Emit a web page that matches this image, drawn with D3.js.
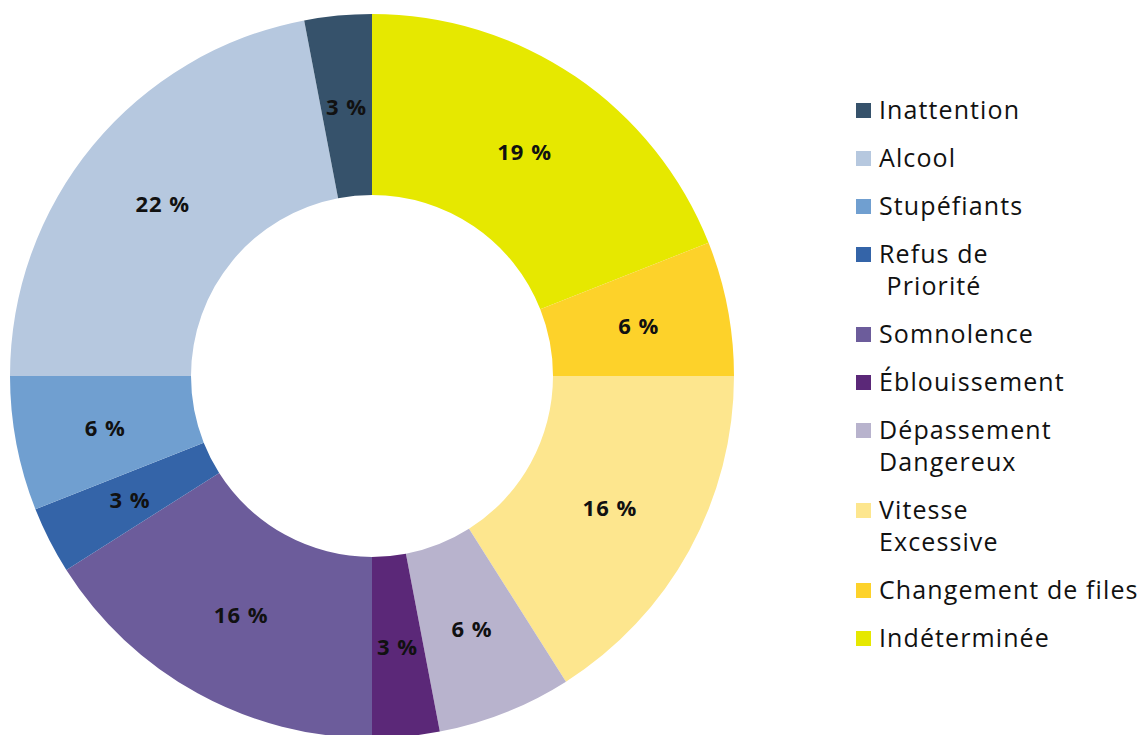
<!DOCTYPE html>
<html>
<head>
<meta charset="utf-8">
<script src="https://cdn.jsdelivr.net/npm/d3@7"></script>
<style>
  body { margin: 0; background: #fff; }
  svg { display: block; font-family: "Open Sans", "Lato", sans-serif; font-variant-ligatures: none; }
</style>
</head>
<body>
<svg width="1145" height="735"></svg>
<script>
// slices, clockwise from 12 o'clock
const causes = ["Indéterminée", "Changement de files", "Vitesse Excessive", "Dépassement Dangereux",
    "Éblouissement", "Somnolence", "Refus de Priorité", "Stupéfiants", "Alcool", "Inattention"];
const shares = [19, 6, 16, 6, 3, 16, 3, 6, 22, 3];
const colors = ["#e6e800", "#fdd22a", "#fde68e", "#b8b3cd", "#5b2878",
    "#6c5c9b", "#3464a8", "#709fd0", "#b6c8df", "#36526b"];

// legend text, top to bottom (reverse of slice order)
const legendLines = [
    ["Inattention"], ["Alcool"], ["Stupéfiants"], ["Refus de", " Priorité"], ["Somnolence"],
    ["Éblouissement"], ["Dépassement", "Dangereux"], ["Vitesse", "Excessive"],
    ["Changement de files"], ["Indéterminée"]
];

var svg = d3.select("svg");

var cx = 372, cy = 376;
var outerR = 362, innerR = 181;

var color = d3.scaleOrdinal().domain(causes).range(colors);

var pie = d3.pie().sort(null).value(d => d.value);
var arc = d3.arc().innerRadius(innerR).outerRadius(outerR);

var data = causes.map((c, i) => ({ name: c, value: shares[i] }));

var g = svg.append("g").attr("transform", "translate(" + cx + "," + cy + ")");

g.selectAll("path")
    .data(pie(data))
    .enter().append("path")
    .attr("d", arc)
    .attr("fill", d => color(d.data.name));

// percentage labels in the middle of the ring
g.selectAll("text")
    .data(pie(data))
    .enter().append("text")
    .attr("transform", d => "translate(" + arc.centroid(d) + ")")
    .attr("text-anchor", "middle")
    .attr("dy", "0.4em")
    .style("font-size", "22px")
    .style("font-weight", "bold")
    .style("letter-spacing", "1px")
    .style("fill", "#111")
    .text(d => d.data.value + " %");

// legend
var legendOrder = causes.slice().reverse();
var lineH = 32, gap = 48;
var ys = [];
var y = 110;
legendLines.forEach((lines, i) => {
    ys.push(y);
    y += gap + lineH * (lines.length - 1);
});

var legend = svg.append("g").attr("class", "legend");

var item = legend.selectAll("g")
    .data(legendOrder)
    .enter().append("g")
    .attr("transform", (d, i) => "translate(856," + ys[i] + ")");

item.append("rect")
    .attr("x", 0)
    .attr("y", -7)
    .attr("width", 15)
    .attr("height", 15)
    .attr("fill", d => color(d));

item.append("text")
    .attr("x", 23)
    .style("font-size", "25px")
    .style("letter-spacing", "1.1px")
    .style("fill", "#111")
    .selectAll("tspan")
    .data((d, i) => legendLines[i])
    .enter().append("tspan")
    .attr("x", 23)
    .attr("y", (d, j) => j * lineH)
    .attr("dy", "0.36em")
    .attr("xml:space", "preserve")
    .style("white-space", "pre")
    .text(d => d);
</script>
</body>
</html>
